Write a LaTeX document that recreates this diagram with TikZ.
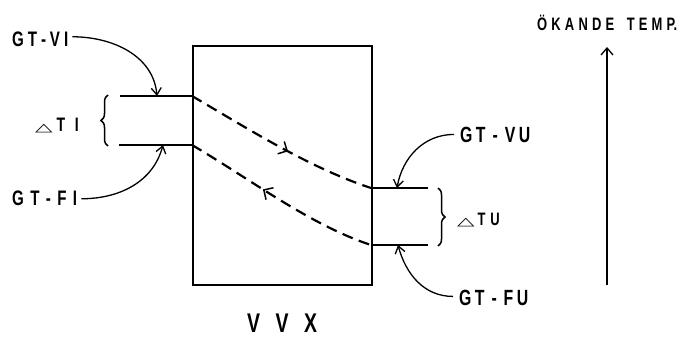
\documentclass[tikz,border=0pt]{standalone}
\usepackage{fontspec}
\setmainfont{Liberation Sans}[FakeStretch=0.72,UprightFont=* Bold]
\newfontfamily\symfont{DejaVu Sans}[BoldFont=* Bold]
\usetikzlibrary{arrows.meta,decorations.pathreplacing,decorations.markings}
\newcommand{\spread}[2]{\makebox[#1][s]{#2}}
\newcommand{\tri}{\scalebox{1.9}[0.95]{\symfont\bfseries\fontsize{12}{12}\selectfont △}}
\begin{document}
\begin{tikzpicture}[x=1pt,y=-1pt,
  thick line/.style={line width=2.2pt},
  leader/.style={line width=1.3pt,-{Straight Barb[length=7pt,width=10pt,line width=1.3pt]}},
  lbl/.style={inner sep=0pt,anchor=base west},
  flow/.style={line width=2.2pt,dash pattern=on 11pt off 6.5pt},
  midfwd/.style={postaction={decorate},decoration={markings,mark=at position 0.55 with {\arrow[solid]{Straight Barb[length=7pt,width=14pt,line width=1.5pt]}}}},
  midback/.style={postaction={decorate},decoration={markings,mark=at position 0.45 with {\arrow[solid]{Straight Barb[length=7pt,width=14pt,line width=1.5pt,reversed]}}}},
  bracestyle/.style={line width=1.5pt,decorate,decoration={brace,amplitude=7pt}}
]
\useasboundingbox (0,0) rectangle (687,337);
% heat exchanger box
\node[draw,line width=2.2pt,minimum width=179pt,minimum height=239pt,inner sep=0pt,anchor=north west] (vvx) at (192,45) {};
\node[lbl,font=\fontsize{27}{27}\selectfont] (vvxl) at (247,332) {\spread{70pt}{V\hfill V\hfill X}};
% left stubs
\coordinate (li) at (120,96);
\coordinate (lo) at (119,145);
\coordinate (bli) at (192,96);
\coordinate (blo) at (192,145);
\draw[thick line] (li) -- (bli);
\draw[thick line] (lo) -- (blo);
% right stubs
\coordinate (bri) at (371,188);
\coordinate (bro) at (371,245);
\coordinate (ri) at (428,188);
\coordinate (ro) at (428,245);
\draw[thick line] (bri) -- (ri);
\draw[thick line] (bro) -- (ro);
% flow lines
\draw[flow,midfwd] (bli) .. controls (250,130) and (310,168) .. (bri);
\draw[flow,midback] (blo) .. controls (250,179) and (310,225) .. (bro);
% braces
\draw[bracestyle] (108,146) -- (108,95) coordinate[midway] (tib);
\draw[bracestyle] (438,188) -- (438,246) coordinate[midway] (tub);
\node[lbl,font=\fontsize{19.5}{19.5}\selectfont] (dti) at (35,131) {\tri\hspace{4pt}\spread{22pt}{T\hfill I}};
\node[lbl,font=\fontsize{18}{18}\selectfont] (dtu) at (457,225) {\tri\hspace{3pt}\spread{22pt}{T\hfill U}};
% labels
\node[lbl,font=\fontsize{21}{21}\selectfont] (gtvi) at (12,47) {\spread{56pt}{G\hfill T\hfill -\hfill V\hfill I}};
\node[lbl,font=\fontsize{21}{21}\selectfont] (gtfi) at (12,205) {\spread{65pt}{G\hfill T\hfill -\hfill F\hfill I}};
\node[lbl,font=\fontsize{22}{22}\selectfont] (gtvu) at (460,142) {\spread{70pt}{G\hfill T\hfill\hfill -\hfill\hfill V\hfill U}};
\node[lbl,font=\fontsize{22}{22}\selectfont] (gtfu) at (459,305) {\spread{69pt}{G\hfill T\hfill\hfill -\hfill\hfill F\hfill U}};
\coordinate (pvi) at (157,96);
\coordinate (pfi) at (163,145);
\coordinate (pvu) at (397,188);
\coordinate (pfu) at (398,245);
\draw[leader] (gtvi.east) ++(4,-3) to[out=0,in=95] (pvi);
\draw[leader] (gtfi.east) ++(4,1) to[out=0,in=-105] (pfi);
\draw[leader] (gtvu.west) ++(-6,0) to[out=180,in=80] (pvu);
\draw[leader] (gtfu.west) ++(-6,-1) to[out=180,in=-75] (pfu);
% temperature arrow
\node[lbl,font=\fontsize{18}{18}\selectfont] (okt) at (537,31) {\spread{140pt}{Ö\hfill K\hfill A\hfill N\hfill D\hfill E\hfill\hfill\hfill T\hfill E\hfill M\hfill P.}};
\coordinate (tb) at (607,285);
\coordinate (tt) at (607,47);
\draw[line width=1.3pt,-{Straight Barb[length=7pt,width=12pt,line width=1.3pt]}] (tb) -- (tt);
\end{tikzpicture}
\end{document}
